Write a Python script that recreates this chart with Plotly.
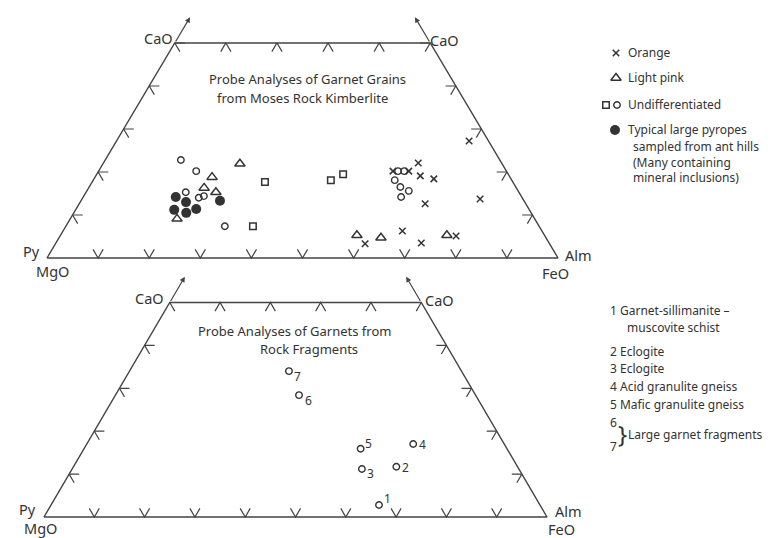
import plotly.graph_objects as go

W, H = 772, 538

# ---------------- data (CaO %, FeO %; MgO = 100 - CaO - FeO) ----------------
# Upper diagram: garnet grains from Moses Rock kimberlite
orange_cao = [20.2, 20.2, 22.1, 19.1, 18.4, 12.6, 13.7, 27.2, 3.3, 6.3, 3.5, 5.1]
orange_feo = [57.6, 60.7, 61.6, 63.5, 66.5, 67.7, 77.9, 69.0, 60.6, 66.4, 71.5, 77.5]

pink_cao = [21.9, 18.8, 16.3, 15.3, 9.1, 5.3, 4.7, 5.3]
pink_feo = [26.8, 22.9, 22.6, 25.4, 20.9, 58.0, 63.0, 75.6]

undiff_sq_cao = [17.7, 7.4, 18.1, 19.5]
undiff_sq_feo = [33.8, 36.6, 46.5, 48.2]

undiff_ci_cao = [22.8, 20.2, 15.3, 14.0, 14.4, 7.4, 20.2, 20.2, 18.1, 16.5, 15.6, 14.2]
undiff_ci_feo = [14.8, 19.1, 19.5, 22.7, 23.5, 31.1, 58.6, 59.8, 59.0, 60.9, 63.0, 62.2]

pyrope_cao = [14.2, 13.0, 11.2, 10.5, 11.4, 13.3]
pyrope_feo = [18.1, 20.7, 19.3, 22.0, 23.5, 27.2]

# Lower diagram: garnets from rock fragments
rock_ids = ["1", "2", "3", "4", "5", "6", "7"]
rock_cao = [2.8, 11.7, 11.2, 17.0, 15.9, 28.4, 34.0]
rock_feo = [65.2, 64.2, 57.6, 64.9, 55.0, 36.5, 31.7]
rock_names = ["Garnet-sillimanite \u2013", "Eclogite", "Eclogite",
              "Acid granulite gneiss", "Mafic granulite gneiss"]

cao_max = 50                       # diagram truncated at 50 % CaO
base_ticks = [10, 20, 30, 40, 50, 60, 70, 80, 90]
side_ticks = [10, 20, 30, 40, 50]
top_ticks = [10, 20, 30, 40]

# ---------------- helpers ----------------
INK = "#333333"
LINE = "#444444"
FONT = "Noto Sans"


def tx(cao, feo):
    """ternary composition -> plane coordinates (x along base, y = CaO)"""
    return [f + c / 2.0 for c, f in zip(cao, feo)], list(cao)


# panel pixel geometry
panels = {
    "top": dict(x0=39, x1=550, y0=250, y1=35, dt=0, db=270, xa="x", ya="y"),
    "bot": dict(x0=36, x1=539, y0=509, y1=294.5, dt=270, db=538, xa="x2", ya="y2"),
}
for p in panels.values():
    p["sx"] = (p["x1"] - p["x0"]) / 100.0
    p["sy"] = (p["y0"] - p["y1"]) / float(cao_max)


def px2d(p, X, Y):
    return (X - p["x0"]) / p["sx"], (p["y0"] - Y) / p["sy"]


fig = go.Figure()

L = 2.0  # tick arm length (in CaO %)


def add_frame(p):
    xa, ya = p["xa"], p["ya"]
    fx, fy = tx([0, cao_max, cao_max, 0, 0], [0, 0, 100 - cao_max, 100, 0])
    fig.add_trace(go.Scatter(x=fx, y=fy, mode="lines", xaxis=xa, yaxis=ya,
                             line=dict(color=LINE, width=1.4), hoverinfo="skip"))
    sx, sy = [], []
    for t in base_ticks:  # V ticks on the base
        x0, y0 = t, 0
        sx += [x0 - 0.5 * L, x0, x0 + 0.5 * L, None]
        sy += [L, y0, L, None]
    for t in top_ticks:   # ^ ticks on the top edge
        x0, y0 = tx([cao_max], [t])[0][0], cao_max
        sx += [x0 - 0.5 * L, x0, x0 + 0.5 * L, None]
        sy += [y0 - L, y0, y0 - L, None]
    for c in side_ticks:  # < ticks on the left edge, > ticks on the right edge
        xl = c / 2.0
        sx += [xl + L, xl, xl + 0.5 * L, None]
        sy += [c, c, c - L, None]
        xr = 100 - c / 2.0
        sx += [xr - L, xr, xr - 0.5 * L, None]
        sy += [c, c, c - L, None]
    fig.add_trace(go.Scatter(x=sx, y=sy, mode="lines", xaxis=xa, yaxis=ya,
                             line=dict(color=LINE, width=1.2), hoverinfo="skip"))
    # arrows toward the CaO apex
    for (cx, cy, dx) in [(cao_max / 2.0, cao_max, 3.0), (100 - cao_max / 2.0, cao_max, -3.0)]:
        fig.add_annotation(x=cx + dx, y=cy + 6, ax=cx, ay=cy, xref=xa, yref=ya,
                           axref=xa, ayref=ya, text="", showarrow=True,
                           arrowhead=2, arrowsize=0.9, arrowwidth=1.2, arrowcolor=LINE)


def add_pts(p, cao, feo, symbol, size, filled=False, lw=1.4):
    x, y = tx(cao, feo)
    fig.add_trace(go.Scatter(
        x=x, y=y, mode="markers", xaxis=p["xa"], yaxis=p["ya"],
        marker=dict(symbol=symbol, size=size, color=INK,
                    line=dict(color=INK, width=0 if filled else lw)),
        hoverinfo="skip"))


def add_marker_px(p, X, Y, symbol, size, filled=False, lw=1.4):
    x, y = px2d(p, X, Y)
    fig.add_trace(go.Scatter(
        x=[x], y=[y], mode="markers", xaxis=p["xa"], yaxis=p["ya"],
        marker=dict(symbol=symbol, size=size, color=INK,
                    line=dict(color=INK, width=0 if filled else lw)),
        hoverinfo="skip"))


def label(X, Y, text, size=13, anchor="center", yanchor="middle"):
    fig.add_annotation(x=X / W, y=1 - Y / H, xref="paper", yref="paper", text=text,
                       showarrow=False, xanchor=anchor, yanchor=yanchor, align="left",
                       borderpad=0,
                       font=dict(family=FONT, size=size, color=INK))


top, bot = panels["top"], panels["bot"]
add_frame(top)
add_frame(bot)

# upper diagram points
add_pts(top, orange_cao, orange_feo, "x-thin", 6.5, lw=1.5)
add_pts(top, pink_cao, pink_feo, "triangle-up-open", 9, lw=1.5)
add_pts(top, undiff_sq_cao, undiff_sq_feo, "square-open", 6.5, lw=1.5)
add_pts(top, undiff_ci_cao, undiff_ci_feo, "circle-open", 6.5, lw=1.4)
add_pts(top, pyrope_cao, pyrope_feo, "circle", 10, filled=True)

# lower diagram points with numbers
rx, ry = tx(rock_cao, rock_feo)
fig.add_trace(go.Scatter(
    x=rx, y=ry, mode="markers", xaxis="x2", yaxis="y2",
    marker=dict(symbol="circle-open", size=6.5, color=INK, line=dict(color=INK, width=1.4)),
    hoverinfo="skip"))
label_shift = [(8, 6), (9, -1), (9, -5), (9, 0), (8, 5), (9, -5), (9, -5)]
for xi, yi, t, (dx, dy) in zip(rx, ry, rock_ids, label_shift):
    fig.add_annotation(x=xi, y=yi, xref="x2", yref="y2", text=t, showarrow=False,
                       xshift=dx, yshift=dy, borderpad=0,
                       font=dict(family=FONT, size=12, color=INK))

# corner labels
for (X, Y, t, a) in [(166, 30, "CaO", "right"), (421, 32, "CaO", "left"),
                     (33, 243, "Py", "right"), (27, 263, "MgO", "left"),
                     (556, 247, "Alm", "left"), (533, 265, "FeO", "left"),
                     (157, 290, "CaO", "right"), (416, 292, "CaO", "left"),
                     (29, 501, "Py", "right"), (15, 520, "MgO", "left"),
                     (546, 503, "Alm", "left"), (539, 521, "FeO", "left")]:
    label(X, Y, t, size=14.5, anchor=a)

# titles
label(299, 71, "Probe Analyses of Garnet Grains", 13)
label(294, 90, "from Moses Rock Kimberlite", 13)
label(286, 323, "Probe Analyses of Garnets from", 13)
label(301, 341, "Rock Fragments", 13)

# legend, upper diagram
add_marker_px(top, 608, 45, "x-thin", 6.5, lw=1.5)
label(619, 45, "Orange", 12, "left")
add_marker_px(top, 608, 70, "triangle-up-open", 9, lw=1.5)
label(619, 70, "Light pink", 12, "left")
add_marker_px(top, 598, 97, "square-open", 6.5, lw=1.5)
add_marker_px(top, 609, 97, "circle-open", 6.5, lw=1.4)
label(619, 97, "Undifferentiated", 12, "left")
add_marker_px(top, 607, 122, "circle", 10, filled=True)
label(619, 122, "Typical large pyropes", 12, "left")
label(624, 154, "sampled from ant hills<br>(Many containing<br>mineral inclusions)", 12, "left")

# legend, lower diagram
label(601, 302, rock_ids[0] + " " + rock_names[0], 12, "left")
label(618, 319, "muscovite schist", 12, "left")
for i, yy in zip(range(1, 5), [343, 360, 378, 396]):
    label(601, yy, rock_ids[i] + " " + rock_names[i], 12, "left")
label(601, 414, rock_ids[5], 12, "left")
label(601, 438, rock_ids[6], 12, "left")
label(609, 425, "}", 24, "left")
label(619, 426, "Large garnet fragments", 12, "left")

# axes
layout_axes = {}
for key, p in panels.items():
    xr = [-p["x0"] / p["sx"], (W - p["x0"]) / p["sx"]]
    yr = [(p["y0"] - p["db"]) / p["sy"], (p["y0"] - p["dt"]) / p["sy"]]
    dom = [1 - p["db"] / H, 1 - p["dt"] / H]
    xn = "xaxis" if p["xa"] == "x" else "xaxis2"
    yn = "yaxis" if p["ya"] == "y" else "yaxis2"
    layout_axes[xn] = dict(range=xr, domain=[0, 1], visible=False, anchor=p["ya"], fixedrange=True)
    layout_axes[yn] = dict(range=yr, domain=dom, visible=False, anchor=p["xa"], fixedrange=True)

fig.update_layout(
    width=W, height=H, margin=dict(l=0, r=0, t=0, b=0),
    paper_bgcolor="white", plot_bgcolor="rgba(0,0,0,0)",
    showlegend=False, **layout_axes)

fig.write_html("out.html")
